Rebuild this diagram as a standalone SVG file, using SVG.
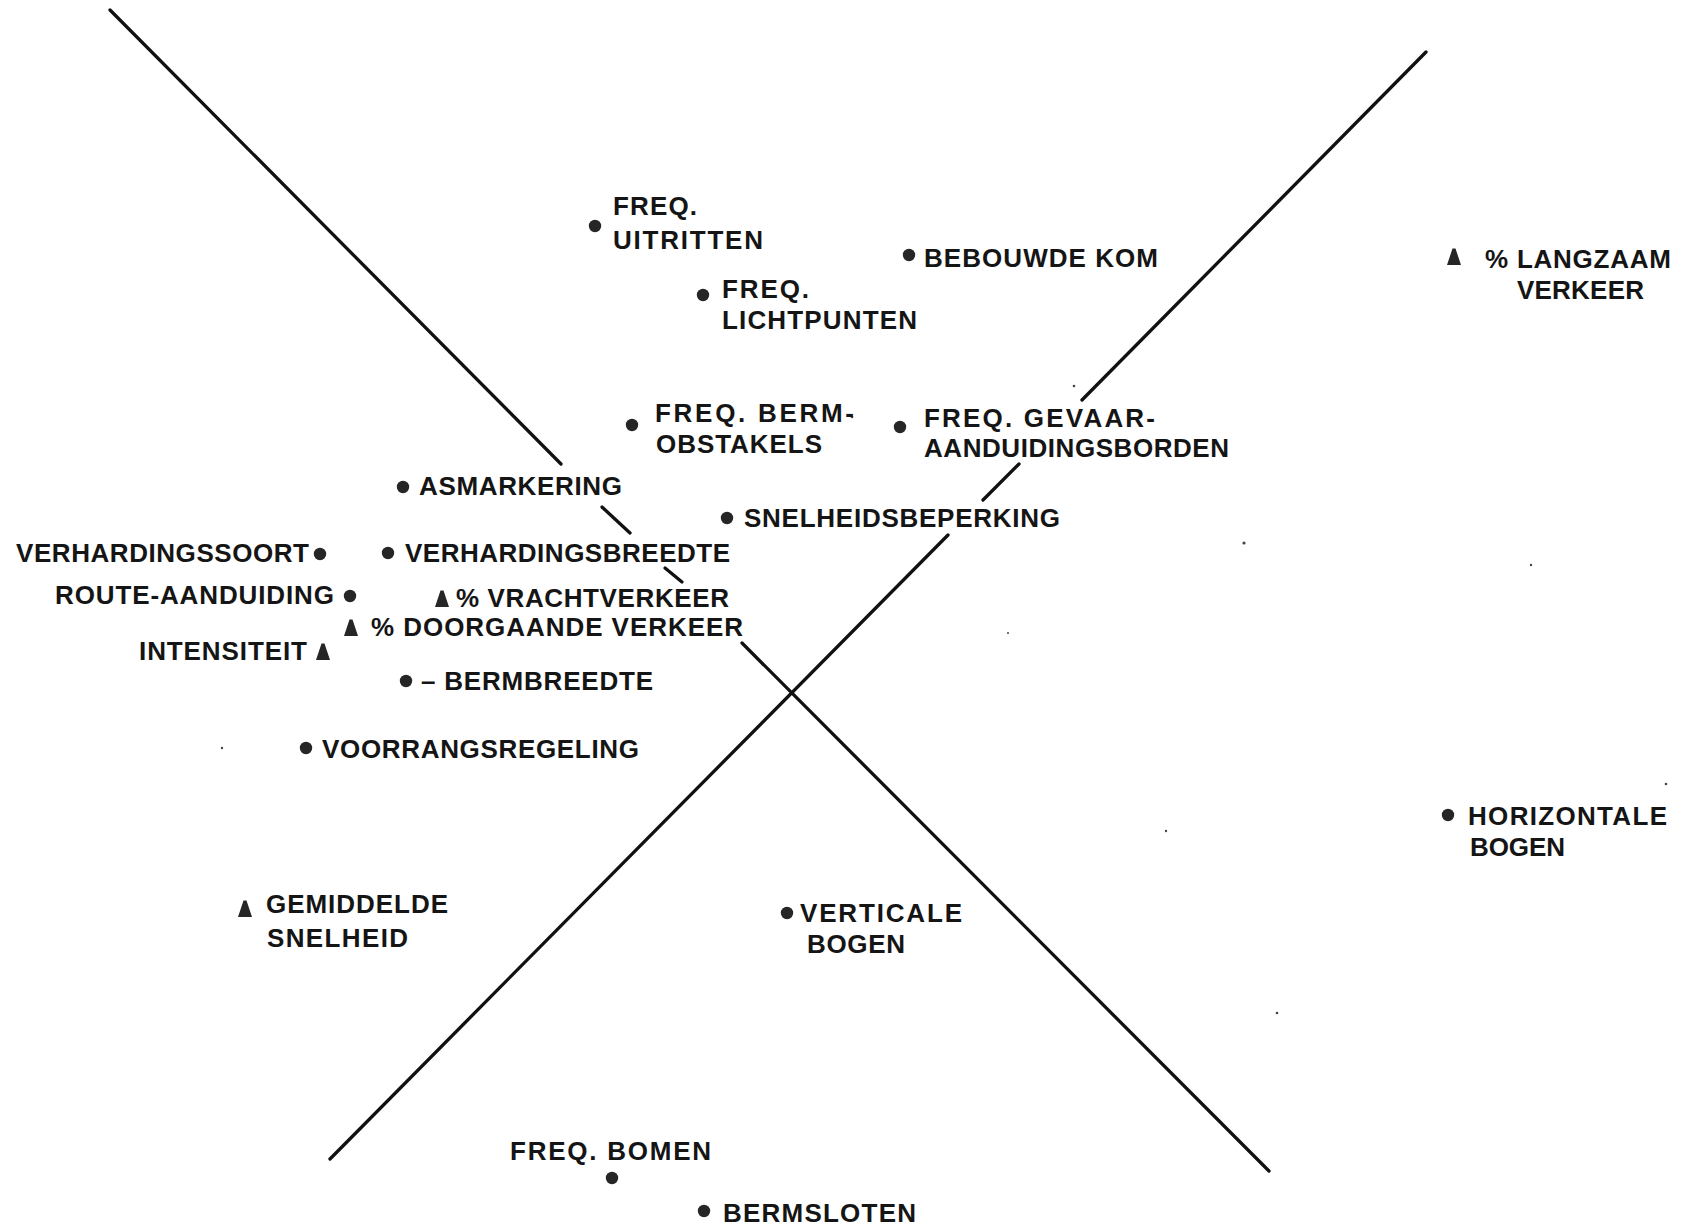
<svg xmlns="http://www.w3.org/2000/svg" xmlns:xlink="http://www.w3.org/1999/xlink" width="1682" height="1227" viewBox="0 0 1682 1227">
<style>
  .bg { fill: #ffffff; }
  .axis { stroke: #111; stroke-width: 3.3; fill: none; stroke-linecap: round; }
  .lbl { font-family: "Liberation Sans", Arial, "DejaVu Sans", sans-serif; font-weight: bold; font-size: 26px; fill: #151515; }
  .speck { fill: #444; }
</style>
<defs>
  <circle id="dot" cx="0" cy="0" r="6.2" fill="#262626"/>
  <polygon id="tri" points="-1.5,-8.5 1.5,-8.5 7,8 -7,8" fill="#262626"/>
</defs>
<rect class="bg" x="0" y="0" width="1682" height="1227"/>

<g id="connectors">
  <path class="axis" d="M110,10 L561,464"/>
  <path class="axis" d="M602,507 L630,533"/>
  <path class="axis" d="M665,568 L682,582"/>
  <path class="axis" d="M742,643 L1269,1171"/>
  <path class="axis" d="M330,1159 L948,535"/>
  <path class="axis" d="M983,500 L1019,464"/>
  <path class="axis" d="M1082,400 L1426,52"/>
</g>

<g id="specks">
  <circle class="speck" cx="1244" cy="543" r="1.6"/>
  <circle class="speck" cx="1531" cy="565" r="1.2"/>
  <circle class="speck" cx="1166" cy="831" r="1.2"/>
  <circle class="speck" cx="1277" cy="1013" r="1.3"/>
  <circle class="speck" cx="1666" cy="784" r="1.3"/>
  <circle class="speck" cx="222" cy="748" r="1.2"/>
  <circle class="speck" cx="1074" cy="386" r="1.3"/>
  <circle class="speck" cx="852" cy="417" r="1.3"/>
  <circle class="speck" cx="1008" cy="633" r="1"/>
</g>

<g id="n-uitritten">
  <use xlink:href="#dot" x="595" y="226"/>
  <text class="lbl" x="613" y="215" textLength="84" lengthAdjust="spacing">FREQ.</text>
  <text class="lbl" x="613" y="249" textLength="150" lengthAdjust="spacing">UITRITTEN</text>
</g>
<g id="n-bebouwde-kom">
  <use xlink:href="#dot" x="909" y="255"/>
  <text class="lbl" x="924" y="267" textLength="234" lengthAdjust="spacing">BEBOUWDE KOM</text>
</g>
<g id="n-lichtpunten">
  <use xlink:href="#dot" x="703" y="295"/>
  <text class="lbl" x="722" y="298" textLength="87" lengthAdjust="spacing">FREQ.</text>
  <text class="lbl" x="722" y="329" textLength="195" lengthAdjust="spacing">LICHTPUNTEN</text>
</g>
<g id="n-bermobstakels">
  <use xlink:href="#dot" x="632" y="425"/>
  <text class="lbl" x="655" y="422" textLength="199" lengthAdjust="spacing">FREQ. BERM-</text>
  <text class="lbl" x="656" y="453" textLength="166" lengthAdjust="spacing">OBSTAKELS</text>
</g>
<g id="n-gevaarborden">
  <use xlink:href="#dot" x="900" y="427"/>
  <text class="lbl" x="924" y="427" textLength="231" lengthAdjust="spacing">FREQ. GEVAAR-</text>
  <text class="lbl" x="924" y="457" textLength="305" lengthAdjust="spacing">AANDUIDINGSBORDEN</text>
</g>
<g id="n-snelheidsbeperking">
  <use xlink:href="#dot" x="727" y="518"/>
  <text class="lbl" x="744" y="527" textLength="316" lengthAdjust="spacing">SNELHEIDSBEPERKING</text>
</g>
<g id="n-asmarkering">
  <use xlink:href="#dot" x="403" y="487"/>
  <text class="lbl" x="419" y="495" textLength="203" lengthAdjust="spacing">ASMARKERING</text>
</g>
<g id="n-verhardingssoort">
  <text class="lbl" x="16" y="562" textLength="293" lengthAdjust="spacing">VERHARDINGSSOORT</text>
  <use xlink:href="#dot" x="320" y="554"/>
</g>
<g id="n-verhardingsbreedte">
  <use xlink:href="#dot" x="388" y="553"/>
  <text class="lbl" x="405" y="562" textLength="325" lengthAdjust="spacing">VERHARDINGSBREEDTE</text>
</g>
<g id="n-route-aanduiding">
  <text class="lbl" x="55" y="604" textLength="279" lengthAdjust="spacing">ROUTE-AANDUIDING</text>
  <use xlink:href="#dot" x="350" y="596"/>
</g>
<g id="n-vrachtverkeer">
  <use xlink:href="#tri" x="442" y="599"/>
  <text class="lbl" x="456" y="607" textLength="273" lengthAdjust="spacing">% VRACHTVERKEER</text>
</g>
<g id="n-doorgaande-verkeer">
  <use xlink:href="#tri" x="351" y="628"/>
  <text class="lbl" x="371" y="636" textLength="372" lengthAdjust="spacing">% DOORGAANDE VERKEER</text>
</g>
<g id="n-intensiteit">
  <text class="lbl" x="139" y="660" textLength="168" lengthAdjust="spacing">INTENSITEIT</text>
  <use xlink:href="#tri" x="323" y="652"/>
</g>
<g id="n-bermbreedte">
  <use xlink:href="#dot" x="406" y="681"/>
  <text class="lbl" x="421" y="690" textLength="232" lengthAdjust="spacing">– BERMBREEDTE</text>
</g>
<g id="n-voorrangsregeling">
  <use xlink:href="#dot" x="306" y="748"/>
  <text class="lbl" x="322" y="758" textLength="317" lengthAdjust="spacing">VOORRANGSREGELING</text>
</g>
<g id="n-gemiddelde-snelheid">
  <use xlink:href="#tri" x="245" y="909"/>
  <text class="lbl" x="266" y="913" textLength="182" lengthAdjust="spacing">GEMIDDELDE</text>
  <text class="lbl" x="267" y="947" textLength="141" lengthAdjust="spacing">SNELHEID</text>
</g>
<g id="n-verticale-bogen">
  <use xlink:href="#dot" x="787" y="913"/>
  <text class="lbl" x="800" y="922" textLength="162" lengthAdjust="spacing">VERTICALE</text>
  <text class="lbl" x="807" y="953" textLength="98" lengthAdjust="spacing">BOGEN</text>
</g>
<g id="n-bomen">
  <text class="lbl" x="510" y="1160" textLength="201" lengthAdjust="spacing">FREQ. BOMEN</text>
  <use xlink:href="#dot" x="612" y="1178"/>
</g>
<g id="n-bermsloten">
  <use xlink:href="#dot" x="704" y="1211"/>
  <text class="lbl" x="723" y="1222" textLength="193" lengthAdjust="spacing">BERMSLOTEN</text>
</g>
<g id="n-langzaam-verkeer">
  <use xlink:href="#tri" x="1454" y="257"/>
  <text class="lbl" x="1485" y="268" textLength="186" lengthAdjust="spacing">% LANGZAAM</text>
  <text class="lbl" x="1517" y="299" textLength="127" lengthAdjust="spacing">VERKEER</text>
</g>
<g id="n-horizontale-bogen">
  <use xlink:href="#dot" x="1448" y="815"/>
  <text class="lbl" x="1468" y="825" textLength="199" lengthAdjust="spacing">HORIZONTALE</text>
  <text class="lbl" x="1470" y="856" textLength="95" lengthAdjust="spacing">BOGEN</text>
</g>
</svg>
